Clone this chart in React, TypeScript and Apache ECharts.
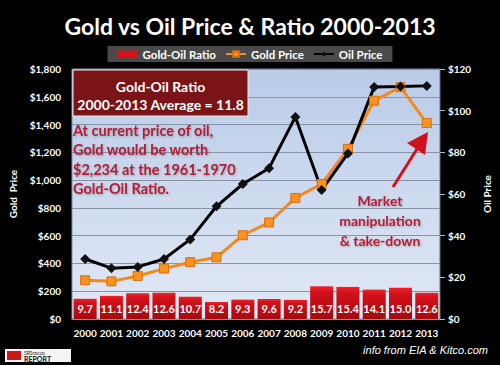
import React, { useEffect, useRef } from "react";
import * as echarts from "echarts";

const years = ["2000","2001","2002","2003","2004","2005","2006","2007","2008","2009","2010","2011","2012","2013"];
const ratio = [9.7, 11.1, 12.4, 12.6, 10.7, 8.2, 9.3, 9.6, 9.2, 15.7, 15.4, 14.1, 15.0, 12.6];
const gold = [279, 271, 310, 363, 409, 444, 603, 695, 872, 972, 1225, 1572, 1669, 1411];
const oil = [28.8, 24.4, 25.0, 28.8, 38.2, 54.1, 64.8, 72.4, 97.0, 61.9, 79.5, 111.4, 111.6, 111.9];
const goldTicks = { min: 0, max: 1800, interval: 200 };
const oilTicks = { min: 0, max: 120, interval: 20 };

const FONT = "Lato, 'Open Sans', sans-serif";

export default function App() {
  const ref = useRef<HTMLDivElement>(null);
  useEffect(() => {
    document.body.style.margin = "0";
    document.body.style.background = "#000";
    const chart = echarts.init(ref.current!, null, { renderer: "svg" });
    const moneyFmt = (v: number) => "$" + v.toLocaleString("en-US");
    chart.setOption({
      animation: false,
      backgroundColor: "#000",
      title: {
        text: "Gold vs Oil Price & Ratio 2000-2013",
        left: "center",
        top: 9,
        textStyle: { color: "#fff", fontFamily: FONT, fontWeight: "bold", fontSize: 23 },
      },
      legend: {
        top: 46,
        left: "center",
        backgroundColor: "#4a4a4a",
        padding: [2, 10, 2, 10],
        itemGap: 9,
        itemWidth: 20,
        itemHeight: 7,
        textStyle: { color: "#fff", fontFamily: FONT, fontWeight: "bold", fontSize: 11.5 },
        data: [
          { name: "Gold-Oil Ratio", icon: "rect", itemStyle: { color: "#d8121c" } },
          { name: "Gold Price" },
          { name: "Oil Price" },
        ],
      },
      grid: {
        left: 66,
        right: 53,
        top: 69,
        bottom: 46,
        show: true,
        borderColor: "#8090a8",
        borderWidth: 1,
        backgroundColor: {
          type: "linear", x: 0, y: 0, x2: 0, y2: 1,
          colorStops: [
            { offset: 0, color: "#b9cbe8" },
            { offset: 1, color: "#e2e9f5" },
          ],
        },
      },
      xAxis: {
        type: "category",
        data: years,
        axisLine: { show: true, lineStyle: { color: "#8090a8" } },
        axisTick: { show: false },
        axisLabel: { color: "#fff", fontFamily: FONT, fontWeight: "bold", fontSize: 10, margin: 9, interval: 0 },
      },
      yAxis: [
        {
          type: "value",
          ...goldTicks,
          name: "Gold  Price",
          nameLocation: "middle",
          nameRotate: 90,
          nameGap: 54,
          nameTextStyle: { color: "#fff", fontFamily: FONT, fontWeight: "bold", fontSize: 10 },
          axisLine: { show: false },
          axisTick: { show: false },
          axisLabel: { color: "#fff", fontFamily: FONT, fontWeight: "bold", fontSize: 10, margin: 11, formatter: moneyFmt },
          splitLine: { show: true, lineStyle: { color: "#8893a8", width: 1 } },
        },
        {
          type: "value",
          ...oilTicks,
          position: "right",
          name: "Oil Price",
          nameLocation: "middle",
          nameRotate: 90,
          nameGap: 38,
          nameTextStyle: { color: "#fff", fontFamily: FONT, fontWeight: "bold", fontSize: 10 },
          axisLine: { show: false },
          axisTick: { show: true, length: 5, inside: false, lineStyle: { color: "#bbb" } },
          axisLabel: { color: "#fff", fontFamily: FONT, fontWeight: "bold", fontSize: 10, margin: 8, formatter: moneyFmt },
          splitLine: { show: false },
        },
      ],
      series: [
        {
          name: "Gold-Oil Ratio",
          type: "bar",
          yAxisIndex: 1,
          data: ratio,
          barWidth: 23,
          itemStyle: {
            color: {
              type: "linear", x: 0, y: 0, x2: 0, y2: 1,
              colorStops: [
                { offset: 0, color: "#f02028" },
                { offset: 0.2, color: "#d0101a" },
                { offset: 1, color: "#a8080e" },
              ],
            },
          },
          label: {
            show: true,
            position: "insideBottom",
            distance: 5,
            color: "#fff",
            fontFamily: FONT,
            fontWeight: "bold",
            fontSize: 11,
            formatter: (p: any) => p.value.toFixed(1),
          },
        },
        {
          name: "Gold Price",
          type: "line",
          yAxisIndex: 0,
          data: gold,
          symbol: "rect",
          symbolSize: 9,
          lineStyle: { color: "#f28a1e", width: 3 },
          itemStyle: { color: "#f7921e", borderColor: "#d87010", borderWidth: 1 },
        },
        {
          name: "Oil Price",
          type: "line",
          yAxisIndex: 1,
          data: oil,
          symbol: "diamond",
          symbolSize: 10,
          lineStyle: { color: "#000", width: 3 },
          itemStyle: { color: "#111" },
        },
      ],
      graphic: [
        {
          type: "rect",
          shape: { x: 73, y: 70, width: 175, height: 46 },
          style: { fill: "#7a1416", stroke: "#e8e8e8", lineWidth: 1 },
          z: 100,
        },
        {
          type: "text",
          x: 160.5, y: 86,
          style: { text: "Gold-Oil Ratio", fill: "#fff", font: `bold 14px ${FONT}`, align: "center", verticalAlign: "middle" },
          z: 101,
        },
        {
          type: "text",
          x: 160.5, y: 104,
          style: { text: "2000-2013 Average = 11.8", fill: "#fff", font: `bold 14px ${FONT}`, align: "center", verticalAlign: "middle" },
          z: 101,
        },
        ...["At current price of oil,", "Gold would be worth", "$2,234 at the 1961-1970", "Gold-Oil Ratio."].map((t, i) => ({
          type: "text",
          x: 73, y: 130 + i * 19.5,
          style: {
            text: t, fill: "#b21f35", font: `bold 14.5px ${FONT}`, align: "left", verticalAlign: "middle",
            textShadowColor: "rgba(0,0,0,0.25)", textShadowBlur: 2, textShadowOffsetX: 1, textShadowOffsetY: 1,
          },
          z: 101,
        })),
        ...["Market", "manipulation", "& take-down"].map((t, i) => ({
          type: "text",
          x: 380, y: 200 + i * 20,
          style: {
            text: t, fill: "#b21f35", font: `bold 14px ${FONT}`, align: "center", verticalAlign: "middle",
            textShadowColor: "rgba(0,0,0,0.25)", textShadowBlur: 2, textShadowOffsetX: 1, textShadowOffsetY: 1,
          },
          z: 101,
        })),
        {
          type: "line",
          shape: { x1: 393, y1: 187, x2: 417, y2: 149 },
          style: { stroke: "#d0101a", lineWidth: 3 },
          z: 101,
        },
        {
          type: "polygon",
          shape: { points: [[428, 132], [407, 143], [425, 155]] },
          style: { fill: "#d0101a" },
          z: 101,
        },
        {
          type: "rect",
          shape: { x: 5, y: 349, width: 66, height: 13 },
          style: { fill: "#f4f4f4" },
          z: 100,
        },
        {
          type: "rect",
          shape: { x: 7, y: 351, width: 14, height: 9 },
          style: { fill: "#c81818" },
          z: 101,
        },
        {
          type: "text",
          x: 24, y: 350,
          style: { text: "SRSrocco", fill: "#222", font: `5px ${FONT}`, verticalAlign: "top" },
          z: 101,
        },
        {
          type: "text",
          x: 24, y: 355,
          style: { text: "REPORT", fill: "#111", font: `bold 7px ${FONT}`, verticalAlign: "top" },
          z: 101,
        },
        {
          type: "text",
          x: 488, y: 350,
          style: { text: "info from EIA & Kitco.com", fill: "#fff", font: `italic 11px 'Liberation Sans', Arial, sans-serif`, align: "right", verticalAlign: "middle" },
          z: 101,
        },
      ],
    });
    return () => chart.dispose();
  }, []);
  return <div ref={ref} style={{ position: "absolute", left: 0, top: 0, width: 500, height: 365 }} />;
}
